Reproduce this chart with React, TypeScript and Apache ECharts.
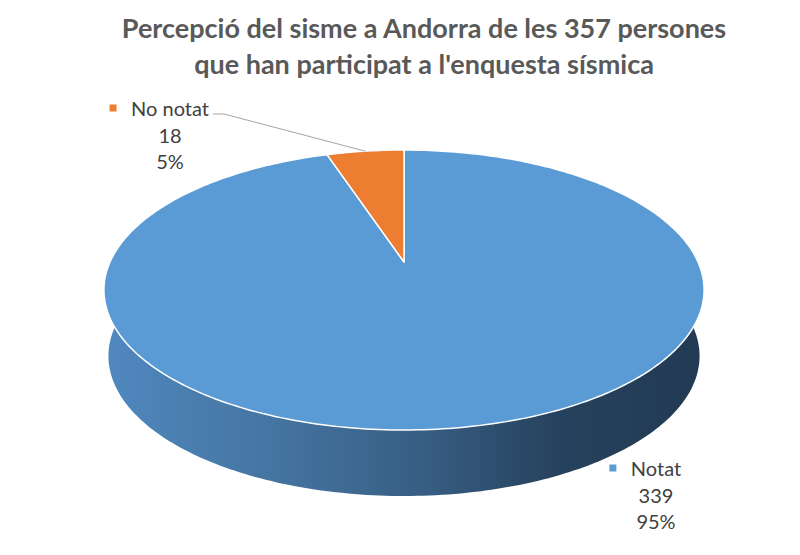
import React, { useEffect, useRef } from "react";
import * as echarts from "echarts";

const categories = ["Notat", "No notat"];
const values = [339, 18];
const titleLines = [
  "Percepció del sisme a Andorra de les 357 persones",
  "que han participat a l'enquesta sísmica",
];

// styling / layout (not data)
const sliceColors = ["#5B9BD5", "#ED7D31"];
const labelLayout = [
  { x: 656, y: 468, leader: false },
  { x: 170, y: 108, leader: true },
];
const CX = 404;
const PA = 82;
const PB = 262;
const PC = -0.2;
const PD = 294;
const DEPTH = 66;
const LABEL_FONT = "20px Lato";
const LABEL_LH = 26.5;

function proj(theta: number, r: number, bottom: boolean): number[] {
  const u = r * Math.sin(theta);
  const v = -r * Math.cos(theta);
  const den = 1 + PC * v;
  let x = CX + (PD * u) / den;
  let y = (PA * v + PB) / den;
  if (bottom) {
    x = CX + (x - CX) * 0.985;
    y += DEPTH;
  }
  return [x, y];
}

function arcPoints(a0: number, a1: number, bottom: boolean): number[][] {
  const n = Math.max(2, Math.ceil((a1 - a0) / (Math.PI / 180)));
  const pts: number[][] = [];
  for (let k = 0; k <= n; k++) {
    pts.push(proj(a0 + ((a1 - a0) * k) / n, 1, bottom));
  }
  return pts;
}

function measure(text: string, font: string): number {
  const c = document.createElement("canvas").getContext("2d");
  if (!c) return text.length * 9;
  c.font = font;
  return c.measureText(text).width;
}

export default function App() {
  const ref = useRef<HTMLDivElement>(null);
  useEffect(() => {
    if (!ref.current) return;
    const chart = echarts.init(ref.current, null, { renderer: "svg" });
    const total = values.reduce((s, v) => s + v, 0);
    let acc = 0;
    const data = values.map((v) => {
      const a0 = (acc / total) * Math.PI * 2;
      acc += v;
      const a1 = (acc / total) * Math.PI * 2;
      return [a0, a1, v];
    });

    const sideGradient = new echarts.graphic.LinearGradient(
      104,
      0,
      705,
      0,
      [
        { offset: 0, color: "#5088bf" },
        { offset: 0.3, color: "#44739f" },
        { offset: 0.55, color: "#365c80" },
        { offset: 0.75, color: "#27425e" },
        { offset: 1, color: "#223a53" },
      ],
      true
    );

    chart.setOption({
      animation: false,
      title: {
        text: titleLines.join("\n"),
        left: 419,
        top: 4,
        textAlign: "center",
        textStyle: {
          fontFamily: "Lato",
          fontWeight: "bold",
          fontSize: 27,
          lineHeight: 36,
          color: "#595959",
        },
      },
      series: [
        {
          type: "custom",
          name: "side",
          coordinateSystem: "none",
          silent: true,
          data,
          renderItem: (params: any, api: any) => {
            const a0 = api.value(0);
            const a1 = api.value(1);
            const top = arcPoints(a0, a1, false);
            const bot = arcPoints(a0, a1, true).reverse();
            return {
              type: "polygon",
              shape: { points: top.concat(bot) },
              style: { fill: sideGradient, stroke: "none" },
            };
          },
        },
        {
          type: "custom",
          name: "top",
          coordinateSystem: "none",
          silent: true,
          data,
          renderItem: (params: any, api: any) => {
            const idx = params.dataIndex;
            const a0 = api.value(0);
            const a1 = api.value(1);
            const v = api.value(2);
            const pts = [proj(0, 0, false)].concat(arcPoints(a0, a1, false));
            const lay = labelLayout[idx];
            const name = categories[idx];
            const lines = [name, String(v), Math.round((v / total) * 100) + "%"];
            const w = measure(name, LABEL_FONT);
            const children: any[] = [
              {
                type: "polygon",
                shape: { points: pts },
                style: {
                  fill: sliceColors[idx],
                  stroke: "#ffffff",
                  lineWidth: 1.5,
                  lineJoin: "round",
                },
              },
              {
                type: "rect",
                shape: { x: lay.x - w / 2 - 18 - 3.5, y: lay.y - 3.5, width: 7, height: 7 },
                style: { fill: sliceColors[idx] },
              },
            ];
            lines.forEach((t, i) => {
              children.push({
                type: "text",
                x: lay.x,
                y: lay.y + i * LABEL_LH,
                style: {
                  text: t,
                  font: LABEL_FONT,
                  fill: "#404040",
                  align: "center",
                  verticalAlign: "middle",
                  textAlign: "center",
                  textVerticalAlign: "middle",
                },
              });
            });
            if (lay.leader) {
              const mid = proj((a0 + a1) / 2, 1, false);
              children.push({
                type: "polyline",
                shape: {
                  points: [
                    [lay.x + w / 2 + 4, lay.y + 6],
                    [lay.x + w / 2 + 15, lay.y + 6],
                    mid,
                  ],
                },
                style: { stroke: "#a6a6a6", lineWidth: 1, fill: "none" },
              });
            }
            return { type: "group", children };
          },
        },
      ],
    });
    return () => chart.dispose();
  }, []);
  return (
    <div
      ref={ref}
      style={{ position: "absolute", left: 0, top: 0, width: 800, height: 555 }}
    />
  );
}
